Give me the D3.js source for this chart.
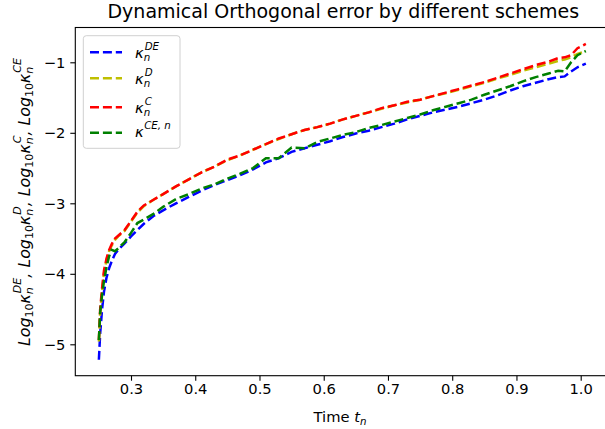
<!DOCTYPE html>
<html><head><meta charset="utf-8">
<script src="https://cdn.jsdelivr.net/npm/d3@7"></script>
<style>body{margin:0;background:#fff}svg{display:block}text{font-family:"DejaVu Sans",sans-serif;fill:#000;white-space:pre}</style>
</head><body><svg id="c" width="605" height="429"></svg>
<script>
// ---- data ----
const timeT = [0.25,0.252,0.255,0.258,0.262,0.266,0.27,0.275,0.28,0.29,0.30,0.31,0.32,0.335,0.35,0.37,0.39,0.41,0.43,0.45,0.47,0.49,0.51,0.53,0.55,0.57,0.59,0.61,0.63,0.65,0.67,0.69,0.71,0.73,0.75,0.77,0.79,0.81,0.83,0.85,0.87,0.89,0.91,0.93,0.95,0.965,0.975,0.985,0.995,1.008];
const logDE = [-5.22,-4.85,-4.5,-4.25,-4.05,-3.92,-3.82,-3.72,-3.66,-3.57,-3.47,-3.38,-3.29,-3.18,-3.10,-3.00,-2.91,-2.82,-2.74,-2.67,-2.60,-2.52,-2.42,-2.36,-2.27,-2.22,-2.17,-2.12,-2.06,-2.01,-1.97,-1.92,-1.87,-1.81,-1.76,-1.71,-1.67,-1.63,-1.58,-1.53,-1.47,-1.40,-1.34,-1.29,-1.24,-1.21,-1.20,-1.13,-1.07,-1.02];
const logD  = [-4.96,-4.55,-4.24,-3.99,-3.8,-3.68,-3.6,-3.52,-3.47,-3.39,-3.26,-3.13,-3.04,-2.95,-2.87,-2.76,-2.66,-2.56,-2.48,-2.39,-2.32,-2.24,-2.16,-2.09,-2.02,-1.96,-1.92,-1.87,-1.81,-1.76,-1.71,-1.66,-1.61,-1.57,-1.53,-1.48,-1.44,-1.39,-1.34,-1.29,-1.23,-1.18,-1.12,-1.07,-1.02,-0.98,-0.96,-0.93,-0.88,-0.84];
const logC  = [-4.94,-4.5,-4.2,-3.95,-3.78,-3.66,-3.58,-3.50,-3.46,-3.38,-3.25,-3.12,-3.03,-2.95,-2.87,-2.76,-2.66,-2.56,-2.48,-2.38,-2.32,-2.24,-2.16,-2.08,-2.02,-1.96,-1.92,-1.87,-1.81,-1.76,-1.71,-1.65,-1.61,-1.56,-1.53,-1.48,-1.43,-1.38,-1.33,-1.28,-1.22,-1.16,-1.10,-1.04,-0.99,-0.94,-0.93,-0.90,-0.80,-0.74];
const logCEn= [-4.94,-4.55,-4.3,-4.1,-3.9,-3.75,-3.66,-3.68,-3.64,-3.55,-3.42,-3.28,-3.23,-3.15,-3.05,-2.94,-2.87,-2.79,-2.73,-2.65,-2.58,-2.50,-2.36,-2.36,-2.21,-2.22,-2.13,-2.08,-2.03,-1.99,-1.93,-1.89,-1.84,-1.79,-1.74,-1.68,-1.63,-1.58,-1.53,-1.46,-1.40,-1.34,-1.27,-1.21,-1.16,-1.12,-1.13,-1.00,-0.90,-0.84];
const xTicks = [0.3,0.4,0.5,0.6,0.7,0.8,0.9,1.0];
const xTickLabels = ["0.3","0.4","0.5","0.6","0.7","0.8","0.9","1.0"];
const yTicks = [-1,-2,-3,-4,-5];
const yTickLabels = ["−1","−2","−3","−4","−5"];
const seriesNames = ["DE","D","C","CEn"];
const seriesColors = ["#0000ff","#bfbf00","#ff0000","#008000"];

// ---- layout ----
const svg = d3.select("#c");
const L = 75.3, T = 27.5, B = 375.7;
const x = d3.scaleLinear().domain([0.3, 1.0]).range([131, 580.7]);
const y = d3.scaleLinear().domain([-1, -5]).range([62.3, 344.3]);
const R = x(1.048);
const FS = 14.7;
const LW = 2.5, DASH = "9,3.9";

svg.append("defs").append("clipPath").attr("id","clip")
  .append("rect").attr("x",L).attr("y",T).attr("width",R-L).attr("height",B-T);

// lines
const values = [logDE, logD, logC, logCEn];
const line = d3.line().x(d=>x(d[0])).y(d=>y(d[1]));
const plot = svg.append("g").attr("clip-path","url(#clip)");
values.forEach((v,i)=>{
  plot.append("path").datum(timeT.map((t,j)=>[t,v[j]]))
    .attr("d",line).attr("fill","none").attr("stroke",seriesColors[i])
    .attr("stroke-width",LW).attr("stroke-dasharray",DASH);
});

// axes
const xAxis = d3.axisBottom(x).tickValues(xTicks).tickFormat((d,i)=>xTickLabels[i]).tickSize(5).tickPadding(5);
const gx = svg.append("g").attr("transform",`translate(0,${B})`).call(xAxis);
const yAxis = d3.axisLeft(y).tickValues(yTicks).tickFormat((d,i)=>yTickLabels[i]).tickSize(5).tickPadding(5);
const gy = svg.append("g").attr("transform",`translate(${L},0)`).call(yAxis);
[gx,gy].forEach(g=>{
  g.select(".domain").remove();
  g.selectAll(".tick line").attr("stroke","#000").attr("stroke-width",1.1);
  g.selectAll(".tick text").style("font-size",FS+"px").style("font-family","DejaVu Sans").attr("fill","#000");
});
gx.selectAll(".tick text").attr("dy","0.71em").attr("y",8);

// frame
svg.append("rect").attr("x",L).attr("y",T).attr("width",R-L).attr("height",B-T)
  .attr("fill","none").attr("stroke","#000").attr("stroke-width",1.1);

// math text helper
function mathText(g, x0, y0, toks, fs){
  let cx = x0;
  const ss = fs*0.7;
  toks.forEach(tk=>{
    if (tk.t){
      const t = g.append("text").attr("x",cx).attr("y",y0).style("font-size",fs+"px")
        .style("font-style", tk.up ? "normal":"italic").text(tk.t);
      cx += t.node().getComputedTextLength();
    }
    let w = 0;
    if (tk.sub){
      const s = g.append("text").attr("x",cx).attr("y",y0+fs*0.25).style("font-size",ss+"px")
        .style("font-style", tk.subUp ? "normal":"italic").text(tk.sub);
      w = Math.max(w, s.node().getComputedTextLength());
    }
    if (tk.sup){
      const s = g.append("text").attr("x",cx+(tk.sub?1:0.5)).attr("y",y0-fs*0.55).style("font-size",ss+"px")
        .style("font-style","italic").text(tk.sup);
      w = Math.max(w, s.node().getComputedTextLength()+(tk.sub?1:0.5));
    }
    cx += w;
  });
  return cx - x0;
}

// title
svg.append("text").attr("x",343.3).attr("y",18.3).attr("text-anchor","middle")
  .style("font-size","19px").text("Dynamical Orthogonal error by different schemes");

// x label
{
  const g = svg.append("g");
  const w = mathText(g, 0, 0, [{t:"Time ",up:true},{t:"t",sub:"n"}], FS);
  g.attr("transform",`translate(${340 - w/2},421.5)`);
}
// y label
{
  const outer = svg.append("g").attr("transform","translate(29.5,202) rotate(-90)");
  const g = outer.append("g");
  const toks = [];
  const sups = ["DE","D","C","CE"];
  sups.forEach((s,i)=>{
    toks.push({t:"Log", sub:"10", subUp:true});
    toks.push({t:"κ", sub:"n", sup:s});
    if (i<3) toks.push({t:", "});
  });
  const w = mathText(g, 0, 0, toks, 15.8);
  g.attr("transform",`translate(${-w/2},0)`);
}

// legend
const lg = svg.append("g");
lg.append("rect").attr("x",83.3).attr("y",35.7).attr("width",96.7).attr("height",112.6)
  .attr("rx",3).attr("fill","#fff").attr("fill-opacity",0.8).attr("stroke","#d0d0d0").attr("stroke-width",1);
const legY = [52.3,78.3,107.3,132.7];
const legTok = [
  [{t:"κ",sub:"n",sup:"DE"}],
  [{t:"κ",sub:"n",sup:"D"}],
  [{t:"κ",sub:"n",sup:"C"}],
  [{t:"κ",sup:"CE, n"}]
];
seriesNames.forEach((n,i)=>{
  lg.append("line").attr("x1",90).attr("x2",122).attr("y1",legY[i]).attr("y2",legY[i])
    .attr("stroke",seriesColors[i]).attr("stroke-width",LW).attr("stroke-dasharray",DASH);
  mathText(lg.append("g"), 135, legY[i] + (i===3?4:5.5), legTok[i], FS);
});
</script></body></html>
